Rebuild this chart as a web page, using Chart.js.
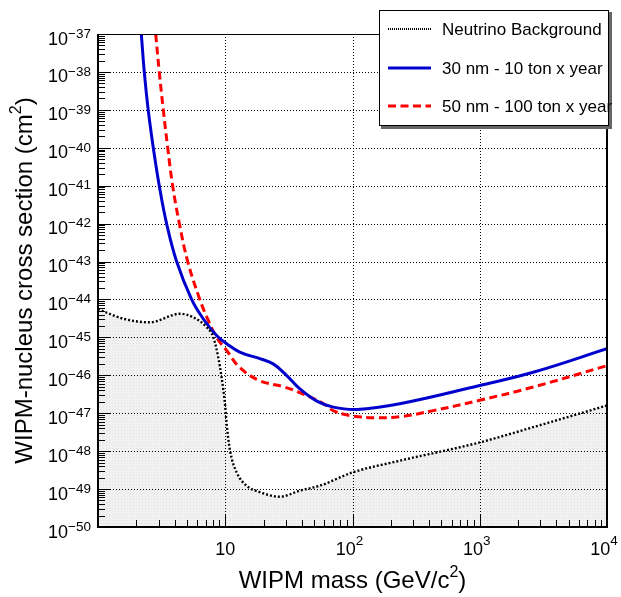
<!DOCTYPE html>
<html><head><meta charset="utf-8">
<script src="https://cdn.jsdelivr.net/npm/chart.js@4/dist/chart.umd.min.js"></script>
<style>html,body{margin:0;padding:0;background:#fff}#wrap{width:621px;height:597px}</style>
</head><body><div id="wrap"><canvas id="c" width="621" height="597"></canvas></div>
<script>
// ---- data ----
const neutrinoMass  = [1, 1.58, 2.56, 4.41, 5.6, 7.14, 8.05, 8.81, 9.36, 9.95, 10.26, 10.9, 12.3, 14.7, 18.7, 26.9, 38.6, 55.5, 100, 235, 1000, 2630, 10000];
const neutrinoSigma = [5.6e-45, 3.1e-45, 2.5e-45, 4.2e-45, 3.4e-45, 1.86e-45, 1.02e-45, 3.0e-46, 8.9e-47, 1.78e-47, 5.2e-48, 1.05e-48, 2.75e-49, 1.23e-49, 8.3e-50, 6.3e-50, 9.1e-50, 1.23e-49, 2.75e-49, 5.6e-49, 1.7e-48, 4.3e-48, 1.6e-47];

const blueMass  = [2.19, 2.31, 2.48, 2.72, 3.03, 3.46, 4.15, 5.44, 6.71, 8.55, 10.26, 13.0, 18.7, 23.8, 30.3, 38.6, 53, 70.5, 108, 235, 1000, 2630, 10000];
const blueSigma = [1e-37, 1e-38, 1e-39, 1e-40, 1e-41, 1e-42, 1e-43, 1e-44, 3.1e-45, 1.12e-45, 6.8e-46, 4.1e-46, 2.75e-46, 2.0e-46, 1e-46, 4.4e-47, 2.05e-47, 1.45e-47, 1.26e-47, 1.78e-47, 5.4e-47, 1.2e-46, 5.0e-46];

const redMass  = [2.84, 3.03, 3.26, 3.53, 3.86, 4.36, 5.07, 6.31, 7.36, 8.55, 10.26, 13.0, 18.7, 28.6, 41.0, 58.9, 70.5, 95.5, 155, 235, 431, 1000, 2630, 10000];
const redSigma = [1e-37, 1e-38, 1e-39, 1e-40, 1e-41, 1e-42, 1e-43, 1e-44, 2.8e-45, 1e-45, 4.5e-46, 1.6e-46, 7.2e-47, 5.0e-47, 3.2e-47, 1.8e-47, 1.17e-47, 8.7e-48, 7.6e-48, 8.1e-48, 1.17e-47, 2.2e-47, 4.9e-47, 1.8e-46];

const seriesNames = ['Neutrino Background', '30 nm - 10 ton x year', '50 nm - 100 ton x year'];
const xTickExponents = [0, 1, 2, 3, 4];          // decades 10^0 .. 10^4
const yTickExponents = [-50,-49,-48,-47,-46,-45,-44,-43,-42,-41,-40,-39,-38,-37];
const xTitle = ['WIPM mass (GeV/c', '2', ')'];
const yTitle = ['WIPM-nucleus cross section (cm', '2', ')'];

const FONT = '"Liberation Sans", Arial, Helvetica, sans-serif';
const toPts = (xs, ys) => xs.map((x, i) => ({x: x, y: ys[i]}));

// fill pattern (light grey, fine dots)
const pc = document.createElement('canvas'); pc.width = 3; pc.height = 3;
const pctx = pc.getContext('2d');
pctx.fillStyle = '#f1f1f1'; pctx.fillRect(0, 0, 3, 3);
pctx.fillStyle = '#e0e0e0'; pctx.fillRect(1, 1, 1, 1);
const fillPattern = document.getElementById('c').getContext('2d').createPattern(pc, 'repeat');

function partsWidth(ctx, parts, sizes) {
  let w = 0;
  parts.forEach((p, i) => { ctx.font = sizes[i] + 'px ' + FONT; w += ctx.measureText(p).width; });
  return w;
}
function drawParts(ctx, parts, sizes, rises, x, y) {
  let cx = x;
  parts.forEach((p, i) => {
    ctx.font = sizes[i] + 'px ' + FONT;
    ctx.fillText(p, cx, y - rises[i]);
    cx += ctx.measureText(p).width;
  });
}

const rootPlugin = {
  id: 'rootStyle',
  beforeDatasetsDraw(chart) {
    const {ctx, chartArea: a, scales: {x, y}} = chart;
    ctx.save();
    ctx.strokeStyle = '#000'; ctx.lineWidth = 1; ctx.setLineDash([1, 2]);
    xTickExponents.forEach(e => {
      const px = Math.round(x.getPixelForValue(Math.pow(10, e))) + 0.5;
      if (px <= a.left + 1 || px >= a.right - 1) return;
      ctx.beginPath(); ctx.moveTo(px, a.bottom); ctx.lineTo(px, a.top); ctx.stroke();
    });
    yTickExponents.forEach(e => {
      const py = Math.round(y.getPixelForValue(Math.pow(10, e))) + 0.5;
      if (py <= a.top + 1 || py >= a.bottom - 1) return;
      ctx.beginPath(); ctx.moveTo(a.left, py); ctx.lineTo(a.right, py); ctx.stroke();
    });
    ctx.restore();
  },
  afterDatasetsDraw(chart) {
    const {ctx, chartArea: a, scales: {x, y}} = chart;
    ctx.save();
    ctx.setLineDash([]);
    ctx.strokeStyle = '#000'; ctx.fillStyle = '#000';
    ctx.lineWidth = 1;
    yTickExponents.forEach(e => {
      for (let k = 1; k <= 9; k++) {
        const v = k * Math.pow(10, e);
        if (v > 1.0001e-37) break;
        const py = Math.round(y.getPixelForValue(v)) + 0.5;
        const len = k === 1 ? 13 : 7;
        ctx.beginPath(); ctx.moveTo(a.left, py); ctx.lineTo(a.left + len, py); ctx.stroke();
      }
    });
    xTickExponents.forEach(e => {
      for (let k = 1; k <= 9; k++) {
        const v = k * Math.pow(10, e);
        if (v > 10000.1) break;
        const px = Math.round(x.getPixelForValue(v)) + 0.5;
        const len = k === 1 ? 13 : 7;
        ctx.beginPath(); ctx.moveTo(px, a.bottom); ctx.lineTo(px, a.bottom - len); ctx.stroke();
      }
    });
    // frame
    ctx.lineWidth = 1;
    ctx.beginPath(); ctx.moveTo(a.left, a.top + 0.5); ctx.lineTo(a.right, a.top + 0.5); ctx.stroke();
    ctx.lineWidth = 2;
    ctx.beginPath(); ctx.moveTo(a.left, a.top); ctx.lineTo(a.left, a.bottom); ctx.lineTo(a.right, a.bottom); ctx.lineTo(a.right, a.top); ctx.stroke();

    // y tick labels
    ctx.textAlign = 'left'; ctx.textBaseline = 'alphabetic';
    yTickExponents.forEach(e => {
      const py = y.getPixelForValue(Math.pow(10, e));
      const expTxt = '\u2212' + Math.abs(e);
      const w = partsWidth(ctx, ['10', expTxt], [18, 13.5]);
      drawParts(ctx, ['10', expTxt], [18, 13.5], [0, 6.7], 91 - w, py + 10.5);
    });
    // x tick labels
    xTickExponents.forEach(e => {
      if (e === 0) return;
      const px = x.getPixelForValue(Math.pow(10, e));
      const base = a.bottom + 28;
      if (e === 1) {
        const bw = partsWidth(ctx, ['10'], [18]);
        drawParts(ctx, ['10'], [18], [0], px - bw / 2, base);
      } else {
        const w = partsWidth(ctx, ['10', String(e)], [18, 13.5]);
        drawParts(ctx, ['10', String(e)], [18, 13.5], [0, 10], px - 3 - w / 2, base);
      }
    });
    // axis titles
    const ts = [24, 16, 24], tr = [0, 11, 0];
    const xw = partsWidth(ctx, xTitle, ts);
    drawParts(ctx, xTitle, ts, tr, (a.left + a.right) / 2 - xw / 2, 588);
    ctx.save();
    ctx.translate(32, (a.top + a.bottom) / 2);
    ctx.rotate(-Math.PI / 2);
    const yw = partsWidth(ctx, yTitle, ts);
    drawParts(ctx, yTitle, ts, tr, -yw / 2, 0);
    ctx.restore();
    ctx.restore();
  },
  afterDraw(chart) {
    const ctx = chart.ctx;
    ctx.save();
    const L = 379, T = 10, R = 609, B = 126;
    ctx.fillStyle = '#666'; ctx.fillRect(L + 2, T + 2, R - L + 1, B - T + 1);
    ctx.fillStyle = '#fff'; ctx.fillRect(L, T, R - L, B - T);
    ctx.strokeStyle = '#000'; ctx.lineWidth = 1; ctx.setLineDash([]);
    ctx.strokeRect(L + 0.5, T + 0.5, R - L - 1, B - T - 1);
    const ds = chart.data.datasets;
    const rows = [35, 74, 112];
    rows.forEach((bl, i) => {
      const d = ds[i];
      const ly = bl - 6;
      ctx.strokeStyle = d.borderColor; ctx.lineWidth = i === 0 ? 2 : d.borderWidth;
      ctx.setLineDash(i === 0 ? [1, 1] : (d.borderDash || []));
      ctx.beginPath(); ctx.moveTo(388, ly); ctx.lineTo(431, ly); ctx.stroke();
      ctx.setLineDash([]);
      ctx.fillStyle = '#000'; ctx.font = '17px ' + FONT; ctx.textAlign = 'left';
      ctx.fillText(d.label, 442, bl);
    });
    ctx.restore();
  }
};

new Chart(document.getElementById('c'), {
  type: 'line',
  data: {
    datasets: [
      { label: seriesNames[0], data: toPts(neutrinoMass, neutrinoSigma), borderColor: '#000', borderWidth: 2.4,
        borderDash: [2, 2], backgroundColor: fillPattern, fill: 'start', pointRadius: 0, cubicInterpolationMode: 'monotone' },
      { label: seriesNames[1], data: toPts(blueMass, blueSigma), borderColor: 'rgb(0,0,205)', borderWidth: 3,
        fill: false, pointRadius: 0, tension: 0.4 },
      { label: seriesNames[2], data: toPts(redMass, redSigma), borderColor: 'rgb(255,0,0)', borderWidth: 3,
        borderDash: [8, 4.5], fill: false, pointRadius: 0, tension: 0.4 }
    ]
  },
  options: {
    responsive: false, animation: false, devicePixelRatio: 1,
    layout: { padding: { left: 98, right: 14, top: 34, bottom: 70 } },
    scales: {
      x: { type: 'logarithmic', min: 1, max: 10000, display: false },
      y: { type: 'logarithmic', min: 1e-50, max: 1e-37, display: false }
    },
    plugins: { legend: { display: false }, tooltip: { enabled: false }, filler: { drawTime: 'beforeDatasetsDraw' } }
  },
  plugins: [rootPlugin]
});
</script></body></html>
